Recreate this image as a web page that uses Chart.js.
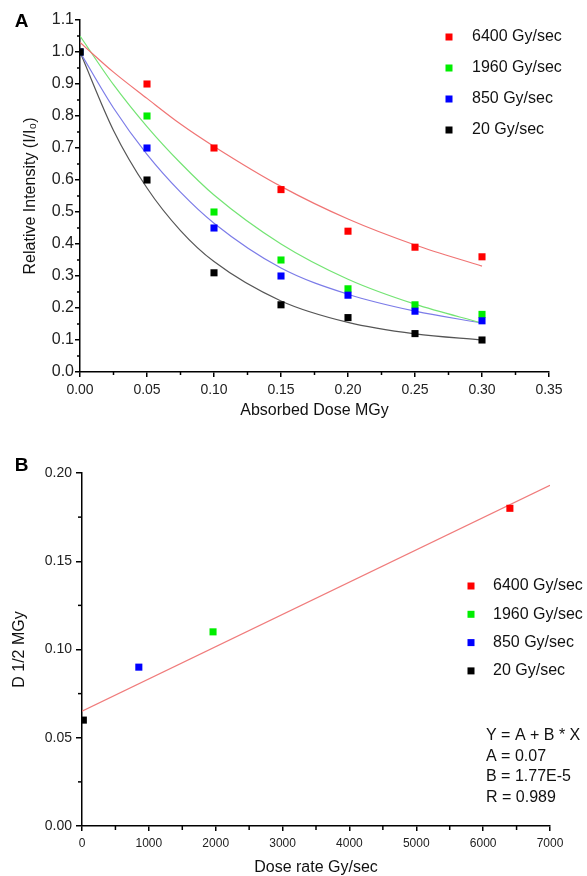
<!DOCTYPE html>
<html>
<head>
<meta charset="utf-8">
<script src="https://cdn.jsdelivr.net/npm/chart.js@4.4.0/dist/chart.umd.min.js"></script>
<style>
    html, body { margin: 0; padding: 0; background: #fff; }
    #wrap { position: relative; width: 587px; height: 876px; }
    .panel { position: absolute; left: 0; width: 587px; }
    #topPanel { top: 0; height: 430px; }
    #bottomPanel { top: 430px; height: 446px; }
</style>
</head>
<body>
<div id="wrap">
    <div class="panel" id="topPanel"><canvas id="doseChart"></canvas></div>
    <div class="panel" id="bottomPanel"><canvas id="rateChart"></canvas></div>
</div>
<script>
// Panel A: relative intensity vs absorbed dose
const doses = [0, 0.05, 0.10, 0.15, 0.20, 0.25, 0.30];
const rate6400 = [1.0, 0.90, 0.70, 0.57, 0.44, 0.39, 0.36];
const rate1960 = [1.0, 0.80, 0.50, 0.35, 0.26, 0.21, 0.18];
const rate850 = [1.0, 0.70, 0.45, 0.30, 0.24, 0.19, 0.16];
const rate20 = [1.0, 0.60, 0.31, 0.21, 0.17, 0.12, 0.10];

// fitted decay curves
const fitDoses = [0, 0.025, 0.05, 0.075, 0.10, 0.15, 0.20, 0.25, 0.30];
const fit6400 = [1.03, 0.937, 0.855, 0.775, 0.705, 0.58, 0.478, 0.397, 0.331];
const fit1960 = [1.05, 0.898, 0.767, 0.653, 0.553, 0.40, 0.29, 0.212, 0.153];
const fit850 = [1.0, 0.825, 0.68, 0.562, 0.465, 0.325, 0.243, 0.19, 0.153];
const fit20 = [1.0, 0.755, 0.575, 0.442, 0.345, 0.222, 0.155, 0.119, 0.10];

// Panel B: D1/2 vs dose rate
const doseRates = [20, 850, 1960, 6400];
const halfDoses = [0.06, 0.09, 0.11, 0.18];
const lineRates = [0, 7000];
const lineHalfDoses = [0.065, 0.193];

const seriesLabels = ['6400 Gy/sec', '1960 Gy/sec', '850 Gy/sec', '20 Gy/sec'];
const seriesColors = ['#ff0000', '#00ee00', '#0000ff', '#000000'];
const fitColors = ['#f07474', '#74e474', '#7c7ce8', '#555555'];
const fitNotes = ['Y = A + B * X', 'A = 0.07', 'B = 1.77E-5', 'R = 0.989'];

const FONT = "'Liberation Sans', Arial, sans-serif";
Chart.defaults.font.family = FONT;
Chart.defaults.color = '#222';

function pairs(xs, ys) {
    return xs.map((x, i) => ({ x: x, y: ys[i] }));
}

// short ticks half way between the labelled ones
const minorTicks = {
    id: 'minorTicks',
    afterDraw(chart, args, opts) {
        const ctx = chart.ctx;
        const area = chart.chartArea;
        ctx.save();
        ctx.strokeStyle = '#000';
        ctx.lineWidth = 1.5;
        ['x', 'y'].forEach(id => {
            const s = chart.scales[id];
            const step = opts[id];
            const n = Math.round((s.max - s.min) / step);
            for (let i = 0; i < n; i++) {
                const p = s.getPixelForValue(s.min + (i + 0.5) * step);
                ctx.beginPath();
                if (id === 'x') {
                    ctx.moveTo(p, area.bottom);
                    ctx.lineTo(p, area.bottom + opts.len);
                } else {
                    ctx.moveTo(area.left, p);
                    ctx.lineTo(area.left - opts.len, p);
                }
                ctx.stroke();
            }
        });
        ctx.restore();
    }
};

// panel letter, in-plot legend and fit text
const panelNotes = {
    id: 'panelNotes',
    afterDraw(chart, args, opts) {
        const ctx = chart.ctx;
        ctx.save();
        ctx.textBaseline = 'middle';
        ctx.fillStyle = '#000';
        ctx.font = 'bold 19px ' + FONT;
        ctx.textAlign = 'center';
        ctx.fillText(opts.letter, opts.letterX, opts.letterY);
        ctx.textAlign = 'left';
        ctx.font = '16px ' + FONT;
        seriesLabels.forEach((label, i) => {
            const y = opts.legendY + i * opts.legendGap;
            ctx.fillStyle = seriesColors[i];
            ctx.fillRect(opts.legendX - 3.5, y - 3.5, 7, 7);
            ctx.fillStyle = '#111';
            ctx.fillText(label, opts.legendX + opts.textGap, y);
        });
        (opts.notes || []).forEach((line, i) => {
            ctx.fillText(line, opts.notesX, opts.notesY + i * opts.notesGap);
        });
        ctx.restore();
    }
};

function axis(min, max, step, digits, tickFont, tickLen, pad, title, fitSize) {
    return {
        type: 'linear',
        min: min,
        max: max,
        border: { display: true, color: '#000', width: 1.5 },
        grid: { drawOnChartArea: false, tickLength: tickLen, color: '#000', lineWidth: 1.5 },
        ticks: {
            stepSize: step,
            padding: pad,
            font: { size: tickFont },
            color: '#222',
            callback: v => Number(v).toFixed(digits)
        },
        title: title,
        afterFit: s => {
            if (s.isHorizontal()) s.height = fitSize; else s.width = fitSize;
        }
    };
}

// Chart A
const seriesA = [rate6400, rate1960, rate850, rate20];
const fitsA = [fit6400, fit1960, fit850, fit20];
const datasetsA = [];
seriesA.forEach((vals, i) => {
    datasetsA.push({
        label: seriesLabels[i],
        data: pairs(doses, vals),
        pointStyle: 'rect',
        pointRadius: 5,
        pointBorderWidth: 0,
        backgroundColor: seriesColors[i],
        borderColor: seriesColors[i],
        order: 3 - i
    });
});
fitsA.forEach((vals, i) => {
    datasetsA.push({
        type: 'line',
        label: seriesLabels[i] + ' fit',
        data: pairs(fitDoses, vals),
        borderColor: fitColors[i],
        borderWidth: 1.2,
        pointRadius: 0,
        fill: false,
        cubicInterpolationMode: 'monotone',
        order: 10
    });
});

new Chart(document.getElementById('doseChart'), {
    type: 'scatter',
    data: { datasets: datasetsA },
    options: {
        responsive: true,
        maintainAspectRatio: false,
        animation: false,
        layout: { padding: { left: 0, top: 20, right: 38, bottom: 0 } },
        plugins: {
            legend: { display: false },
            tooltip: { enabled: false },
            minorTicks: { x: 0.05, y: 0.1, len: 3 },
            panelNotes: {
                letter: 'A', letterX: 21.5, letterY: 22,
                legendX: 449, legendY: 37, legendGap: 31, textGap: 23
            }
        },
        scales: {
            x: axis(0, 0.35, 0.05, 2, 14, 5, 5,
                { display: true, text: 'Absorbed Dose MGy', font: { size: 16 }, color: '#111', padding: { top: 0, bottom: 10 } },
                58),
            y: axis(0, 1.1, 0.1, 1, 16, 5, 1,
                { display: true, text: 'Relative Intensity (I/I\u2080)', font: { size: 16 }, color: '#111', padding: { top: 21, bottom: 0 } },
                80)
        }
    },
    plugins: [minorTicks, panelNotes]
});

// Chart B
const datasetsB = doseRates.map((r, k) => {
    const i = 3 - k; // series order is 6400, 1960, 850, 20
    return {
        label: seriesLabels[i],
        data: [{ x: r, y: halfDoses[k] }],
        pointStyle: 'rect',
        pointRadius: 5,
        pointBorderWidth: 0,
        backgroundColor: seriesColors[i],
        borderColor: seriesColors[i],
        order: 3 - i
    };
});
datasetsB.push({
    type: 'line',
    label: 'Linear fit',
    data: pairs(lineRates, lineHalfDoses),
    borderColor: '#f07c7c',
    borderWidth: 1.2,
    pointRadius: 0,
    fill: false,
    order: 10
});

new Chart(document.getElementById('rateChart'), {
    type: 'scatter',
    data: { datasets: datasetsB },
    options: {
        responsive: true,
        maintainAspectRatio: false,
        animation: false,
        layout: { padding: { left: 0, top: 43, right: 37, bottom: 0 } },
        plugins: {
            legend: { display: false },
            tooltip: { enabled: false },
            minorTicks: { x: 1000, y: 0.05, len: 4 },
            panelNotes: {
                letter: 'B', letterX: 21.5, letterY: 36,
                legendX: 471, legendY: 156, legendGap: 28.3, textGap: 22,
                notes: fitNotes, notesX: 486, notesY: 306, notesGap: 20.4
            }
        },
        scales: {
            x: axis(0, 7000, 1000, 0, 12, 5, 5,
                { display: true, text: 'Dose rate Gy/sec', font: { size: 16, lineHeight: 1 }, color: '#111', padding: { top: 0, bottom: 0 } },
                50),
            y: axis(0, 0.2, 0.05, 2, 14, 6, 4,
                { display: true, text: 'D 1/2 MGy', font: { size: 16 }, color: '#111', padding: { top: 10, bottom: 0 } },
                82)
        }
    },
    plugins: [minorTicks, panelNotes]
});
</script>
</body>
</html>
